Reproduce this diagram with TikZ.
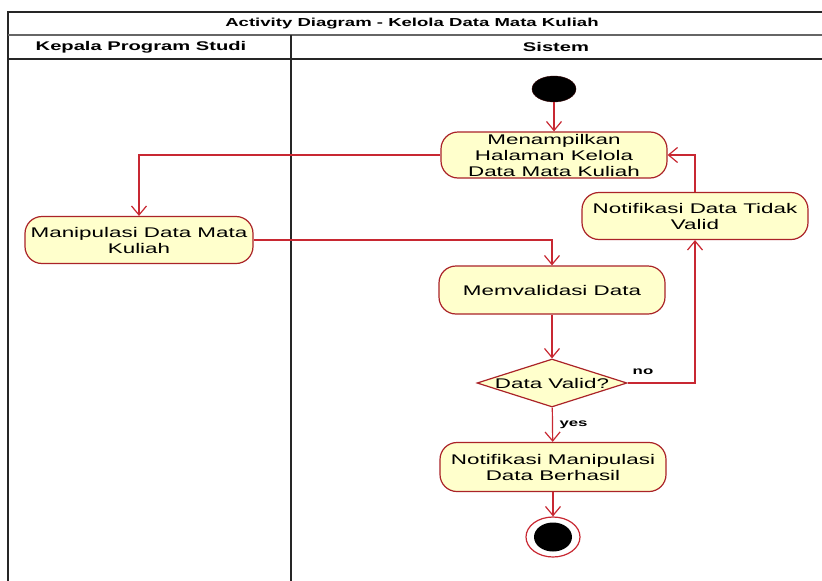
\documentclass[tikz,border=0pt]{standalone}
\usepackage{fontspec}
\setmainfont[FakeStretch=1.6]{Liberation Sans}
\usetikzlibrary{arrows.meta,shapes.geometric}
\definecolor{boxfill}{RGB}{255,255,204}
\definecolor{boxline}{RGB}{170,35,40}
\definecolor{flow}{RGB}{200,40,50}
\begin{document}
\begin{tikzpicture}[x=1pt,y=-1pt,
  act/.style={draw=boxline,fill=boxfill,line width=1.2pt,rounded corners=17pt,
    minimum width=226pt,minimum height=47pt,align=center,inner sep=0pt,
    font=\fontsize{14}{16}\selectfont},
  dec/.style={draw=boxline,fill=boxfill,line width=1.2pt,diamond,aspect=3.1,
    minimum width=150pt,minimum height=48pt,inner sep=0pt,
    font=\fontsize{14}{16}\selectfont},
  flowline/.style={draw=flow,line width=1.2pt,-{Straight Barb[length=9pt,width=15pt]}},
  hdr/.style={font=\bfseries\fontsize{12.6}{14}\selectfont},
  lbl/.style={font=\bfseries\fontsize{10.5}{12}\selectfont}]
\useasboundingbox (0,0) rectangle (822,581);
\fill[white] (0,0) rectangle (822,581);
% frame
\draw[line width=1.5pt,black!85] (8,581) -- (8,12) -- (822,12);
\draw[line width=2pt,black!60] (8,35) -- (822,35);
\draw[line width=1.5pt,black!85] (8,59) -- (822,59);
\draw[line width=1.5pt,black!85] (291,35) -- (291,581);
\node[font=\bfseries\fontsize{11.6}{14}\selectfont] (title) at (412,23.5) {Activity Diagram - Kelola Data Mata Kuliah};
\node[hdr] (lane1) at (141,47) {Kepala Program Studi};
\node[hdr] (lane2) at (556,47) {Sistem};
% nodes
\node[ellipse,fill=black,draw=black!80!red,minimum width=44pt,minimum height=26pt,inner sep=0pt] (start) at (554,89) {};
\node[act,minimum height=46pt] (m1) at (554,155) {Menampilkan\\Halaman Kelola\\Data Mata Kuliah};
\node[act] (nv) at (695,216) {Notifikasi Data Tidak\\Valid};
\node[act,minimum width=228pt] (mp) at (139,240) {Manipulasi Data Mata\\Kuliah};
\node[act,minimum height=48pt] (mv) at (552,290) {Memvalidasi Data};
\node[dec] (dv) at (552,383) {Data Valid?};
\node[act,minimum height=49pt] (nm) at (553,467) {Notifikasi Manipulasi\\Data Berhasil};
\node[ellipse,draw=flow,line width=1.2pt,fill=white,minimum width=54pt,minimum height=40pt,inner sep=0pt] (end) at (553,537) {};
\node[ellipse,fill=black,minimum width=38pt,minimum height=29pt,inner sep=0pt] (endin) at (end.center) {};
% connectors
\draw[flowline] (start) -- (m1);
\draw[flowline] (m1.west) -| (mp.north);
\draw[flowline] (mp.east) -| (mv.north);
\draw[flowline] (mv) -- (dv);
\draw[flowline] (dv.east) -| (nv.south);
\draw[flowline] (nv.north) |- (m1.east);
\draw[flowline] (dv) -- (nm);
\draw[flowline] (nm) -- (end);
\node[lbl] (no) at (643,372) {no};
\node[lbl,anchor=west] (yes) at (556,425) {yes};
\end{tikzpicture}
\end{document}
